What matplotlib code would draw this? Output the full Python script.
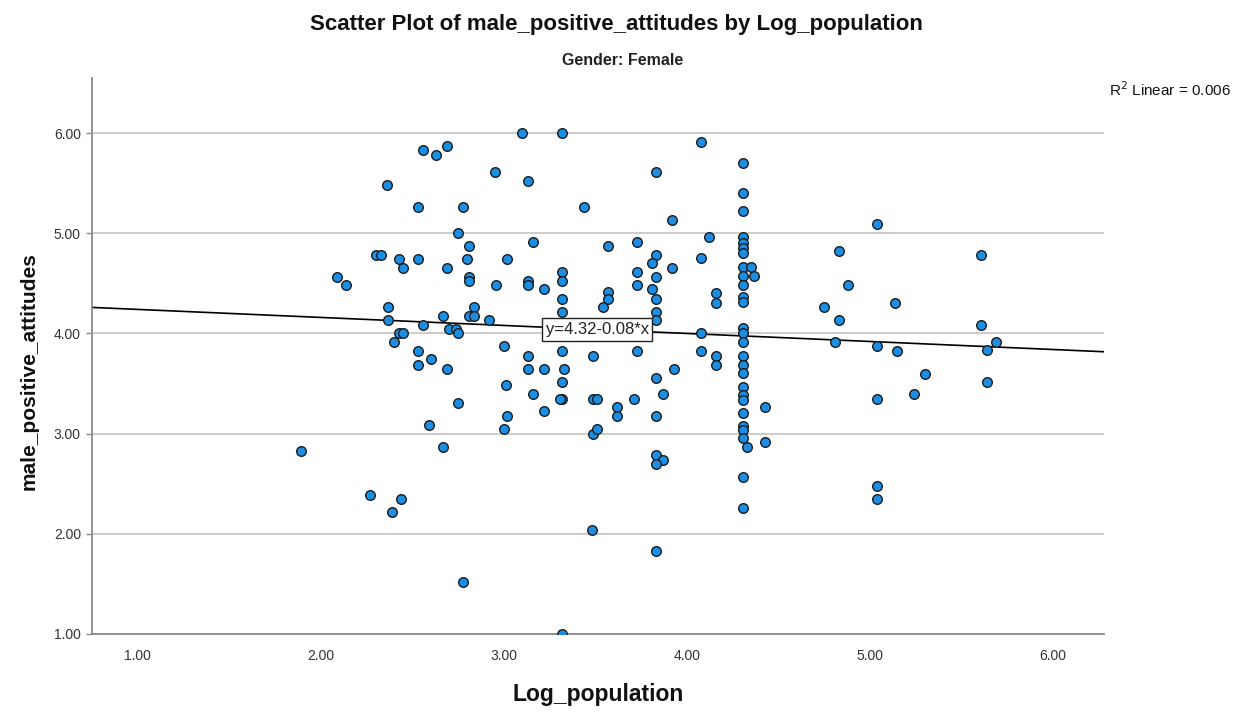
import matplotlib
matplotlib.use("Agg")
import matplotlib.pyplot as plt
import numpy as np

plt.rcParams['font.family'] = ['Liberation Sans', 'DejaVu Sans']

# Log_population values
log_population = [
    1.89, 2.09, 2.14, 2.36, 2.30, 2.33, 2.43, 2.45, 2.37, 2.37,
    2.43, 2.45, 2.40, 2.27, 2.44, 2.39, 2.53, 2.53, 2.53, 2.56,
    2.53, 2.56, 2.60, 2.69, 2.63, 2.69, 2.59, 2.67, 2.78, 2.75,
    2.81, 2.80, 2.69, 2.81, 2.81, 2.67, 2.84, 2.81, 2.84, 2.70,
    2.74, 2.75, 2.75, 2.78, 2.92, 2.95, 3.02, 2.96, 3.00, 3.01,
    3.02, 3.00, 3.10, 3.13, 3.16, 3.13, 3.13, 3.22, 3.13, 3.13,
    3.22, 3.16, 3.22, 3.32, 3.32, 3.32, 3.32, 3.32, 3.32, 3.33,
    3.32, 3.32, 3.31, 3.32, 3.44, 3.49, 3.49, 3.51, 3.49, 3.51,
    3.48, 3.54, 3.57, 3.57, 3.57, 3.62, 3.62, 3.71, 3.73, 3.73,
    3.73, 3.73, 3.83, 3.83, 3.81, 3.83, 3.81, 3.83, 3.83, 3.83,
    3.83, 3.87, 3.83, 3.83, 3.87, 3.83, 3.83, 3.92, 3.92, 3.93,
    4.08, 4.08, 4.12, 4.08, 4.08, 4.16, 4.16, 4.16, 4.16,
    4.31, 4.31, 4.31, 4.31, 4.31, 4.31, 4.31, 4.31, 4.31, 4.31,
    4.31, 4.31, 4.31, 4.31, 4.31, 4.31, 4.31, 4.31, 4.31, 4.31,
    4.31, 4.31, 4.31, 4.31, 4.31, 4.31, 4.31,
    4.35, 4.37, 4.33, 4.43, 4.43,
    5.04, 4.83, 4.88, 4.75, 4.83, 5.14, 4.81, 5.04, 5.15, 5.30,
    5.24, 5.04, 5.04, 5.04, 5.61, 5.61, 5.64, 5.69, 5.64,
]

# male_positive_attitudes values
male_positive_attitudes = [
    2.83, 4.56, 4.48, 5.48, 4.78, 4.78, 4.74, 4.65, 4.26, 4.13,
    4.00, 4.00, 3.91, 2.39, 2.35, 2.22, 3.82, 3.69, 5.26, 5.83,
    4.74, 4.08, 3.75, 3.65, 5.78, 5.87, 3.09, 2.87, 5.26, 5.00,
    4.87, 4.74, 4.65, 4.56, 4.52, 4.17, 4.26, 4.17, 4.17, 4.04,
    4.04, 4.00, 3.31, 1.52, 4.13, 5.61, 4.74, 4.48, 3.87, 3.49,
    3.18, 3.05, 6.00, 5.52, 4.91, 4.52, 4.48, 4.44, 3.78, 3.65,
    3.65, 3.40, 3.23, 6.00, 4.61, 4.52, 4.34, 4.21, 3.82, 3.65,
    3.52, 3.35, 3.35, 1.00, 5.26, 3.78, 3.35, 3.35, 3.00, 3.05,
    2.04, 4.26, 4.41, 4.34, 4.87, 3.27, 3.18, 3.35, 4.91, 4.61,
    4.48, 3.82, 5.61, 4.78, 4.70, 4.56, 4.44, 4.34, 4.21, 4.13,
    3.56, 3.40, 3.18, 2.79, 2.74, 2.70, 1.83, 5.13, 4.65, 3.65,
    5.91, 4.75, 4.96, 4.00, 3.82, 4.40, 4.30, 3.78, 3.69,
    5.70, 5.40, 5.22, 4.96, 4.90, 4.85, 4.80, 4.66, 4.57, 4.48,
    4.36, 4.31, 4.05, 4.00, 3.91, 3.78, 3.69, 3.61, 3.47, 3.39,
    3.34, 3.21, 3.08, 3.04, 2.96, 2.57, 2.26,
    4.66, 4.57, 2.87, 3.27, 2.92,
    5.09, 4.82, 4.48, 4.26, 4.13, 4.30, 3.91, 3.87, 3.82, 3.60,
    3.40, 3.35, 2.48, 2.35, 4.78, 4.08, 3.83, 3.91, 3.52,
]

# linear fit reported on the chart
intercept = 4.32
slope = -0.08
r_squared = 0.006

x_ticks = [1, 2, 3, 4, 5, 6]
y_ticks = [1, 2, 3, 4, 5, 6]

fig = plt.figure(figsize=(12.4, 7.13), dpi=100)
ax = fig.add_axes([0.0742, 0.1108, 0.8161, 0.7798])

ax.set_xlim(0.75, 6.28)
ax.set_ylim(1.0, 6.55)

ax.grid(axis='y', color='#c8c8c8', linewidth=1.3, zorder=0)
ax.set_axisbelow(True)

# regression line across the whole axis
xl = np.array(ax.get_xlim())
ax.plot(xl, intercept + slope * xl, color='black', linewidth=1.2, zorder=2)

ax.scatter(log_population, male_positive_attitudes, s=48, c='#1b8ee4',
           edgecolors='#1c1c1c', linewidths=1.0, zorder=3)

xm = 3.51
ax.text(xm, intercept + slope * xm, f"y={intercept:.2f}{slope:+.2f}*x",
        ha='center', va='center', fontsize=12, color='#222222', zorder=5,
        bbox=dict(boxstyle='square,pad=0.22', facecolor='white',
                  edgecolor='#222222', linewidth=1.0))

ax.set_xticks(x_ticks)
ax.set_yticks(y_ticks)
ax.set_xticklabels([f"{v:.2f}" for v in x_ticks])
ax.set_yticklabels([f"{v:.2f}" for v in y_ticks])
ax.tick_params(axis='x', length=0, pad=11, labelsize=10, labelcolor='#333333')
ax.tick_params(axis='y', length=4, width=1, color='#888888', pad=4,
               labelsize=10, labelcolor='#333333')

for side in ['top', 'right']:
    ax.spines[side].set_visible(False)
for side in ['left', 'bottom']:
    ax.spines[side].set_color('#8a8a8a')
    ax.spines[side].set_linewidth(1.3)

ax.set_xlabel("Log_population", fontsize=16.5, fontweight='bold', labelpad=14,
              color='#111111')
ax.set_ylabel("male_positive_attitudes", fontsize=15, fontweight='bold',
              color='#111111')
ax.yaxis.set_label_coords(-0.053, 0.473)

fig.text(0.497, 0.966, "Scatter Plot of male_positive_attitudes by Log_population",
         ha='center', va='center', fontsize=16, fontweight='bold', color='#111111')
fig.text(0.502, 0.915, "Gender: Female", ha='center', va='center',
         fontsize=11.5, fontweight='bold', color='#222222')
fig.text(0.993, 0.874, f"R$^2$ Linear = {r_squared:.3f}", ha='right', va='center',
         fontsize=11, color='#111111')

fig.savefig("out.png", dpi=100)
